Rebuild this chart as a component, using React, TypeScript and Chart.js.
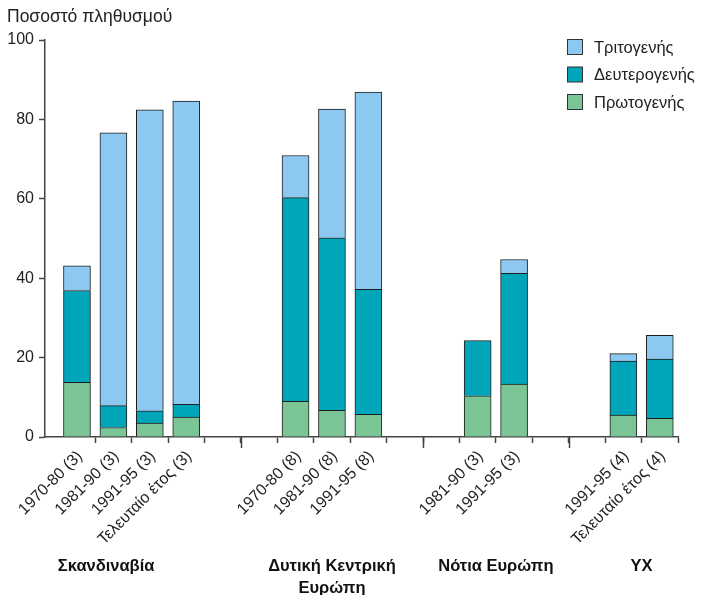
import React, { useEffect, useRef } from "react";
import { Chart, registerables } from "chart.js";

Chart.register(...registerables);

// ---- Data ----
const categories = [
  "1970-80 (3)", "1981-90 (3)", "1991-95 (3)", "Τελευταίο έτος (3)",
  "", "",
  "1970-80 (8)", "1981-90 (8)", "1991-95 (8)",
  "", "",
  "1981-90 (3)", "1991-95 (3)",
  "", "",
  "1991-95 (4)", "Τελευταίο έτος (4)",
];
const primary = [13.8, 2.4, 3.5, 5.0, null, null, 9.0, 6.7, 5.7, null, null, 10.4, 13.3, null, null, 5.5, 4.7];
const secondary = [23.1, 5.5, 3.1, 3.2, null, null, 51.3, 43.5, 31.5, null, null, 13.9, 27.9, null, null, 13.6, 14.9];
const tertiary = [6.2, 68.7, 75.8, 76.4, null, null, 10.6, 32.4, 49.7, null, null, 0, 3.5, null, null, 1.9, 6.0];
const seriesNames = ["Πρωτογενής", "Δευτερογενής", "Τριτογενής"];
const groupLabels = [["Σκανδιναβία"], ["Δυτική Κεντρική", "Ευρώπη"], ["Νότια Ευρώπη"], ["ΥΧ"]];
const groupLabelPos = [0.8, 7, 11.5, 15.5];
const groupSeparators = [4.5, 9.5, 13.5];
const yTicks = [0, 20, 40, 60, 80, 100];
const yTitle = "Ποσοστό πληθυσμού";

const COLORS = ["#7bc495", "#00a5b9", "#8cc8ef"];
const FONT = "'Liberation Sans', Arial, sans-serif";
const AXIS = "#444";

const toPoints = (arr: (number | null)[]) => arr.map((v, i) => ({ x: i, y: v }));

const extras = {
  id: "extras",
  afterDraw(chart: any) {
    const ctx = chart.ctx;
    const x = chart.scales.x;
    const area = chart.chartArea;
    ctx.save();
    // long separator ticks
    ctx.strokeStyle = AXIS;
    ctx.lineWidth = 1.5;
    groupSeparators.forEach((v) => {
      const px = Math.round(x.getPixelForValue(v)) + 0.5;
      ctx.beginPath();
      ctx.moveTo(px, area.bottom);
      ctx.lineTo(px, area.bottom + 11);
      ctx.stroke();
    });
    // group labels
    ctx.fillStyle = "#111";
    ctx.font = `bold 16.5px ${FONT}`;
    ctx.textAlign = "center";
    ctx.textBaseline = "middle";
    groupLabels.forEach((lines, gi) => {
      const px = x.getPixelForValue(groupLabelPos[gi]);
      lines.forEach((t, li) => ctx.fillText(t, px, 566 + li * 22));
    });
    // y title
    ctx.font = `17.5px ${FONT}`;
    ctx.textAlign = "left";
    ctx.fillStyle = "#222";
    ctx.fillText(yTitle, 7, 17);
    // legend (top-down: tertiary, secondary, primary)
    ctx.font = `16.5px ${FONT}`;
    const order = [2, 1, 0];
    order.forEach((si, row) => {
      const cy = 47 + row * 27.5;
      ctx.fillStyle = COLORS[si];
      ctx.fillRect(567.5, cy - 7.5, 15, 15);
      ctx.strokeStyle = "#333";
      ctx.lineWidth = 1;
      ctx.strokeRect(567.5, cy - 7.5, 15, 15);
      ctx.fillStyle = "#222";
      ctx.fillText(seriesNames[si], 594, cy + 1);
    });
    ctx.restore();
  },
};

export default function App() {
  const ref = useRef<HTMLCanvasElement>(null);
  useEffect(() => {
    if (!ref.current) return;
    const chart = new Chart(ref.current, {
      type: "bar",
      data: {
        datasets: [primary, secondary, tertiary].map((arr, i) => ({
          label: seriesNames[i],
          data: toPoints(arr) as any,
          backgroundColor: COLORS[i],
          borderColor: "#1e1e1e",
          borderWidth: 1,
          barThickness: 27,
        })),
      },
      options: {
        responsive: false,
        animation: false,
        layout: { padding: { top: 40, right: 34, left: 0, bottom: 0 } },
        plugins: { legend: { display: false }, tooltip: { enabled: false } },
        scales: {
          x: {
            type: "linear",
            stacked: true,
            offset: false,
            min: -0.878,
            max: 16.5,
            bounds: "data",
            afterBuildTicks: (s: any) => {
              s.ticks = categories.map((_, i) => ({ value: i }));
            },
            afterFit: (s: any) => {
              s.height = 158;
              s.paddingLeft = 0;
              s.paddingRight = 0;
            },
            ticks: {
              autoSkip: false,
              minRotation: 45,
              maxRotation: 45,
              labelOffset: 3,
              padding: 4,
              color: "#222",
              font: { family: FONT, size: 16 },
              callback: (v: any) => categories[v] ?? "",
            },
            grid: {
              drawOnChartArea: false,
              offset: true,
              tickLength: 6,
              tickWidth: 1.5,
              tickColor: (c: any) => (c.index === 0 ? "rgba(0,0,0,0)" : AXIS),
            },
            border: { color: AXIS, width: 1.5 },
          },
          y: {
            stacked: true,
            min: 0,
            max: 100,
            afterBuildTicks: (s: any) => {
              s.ticks = yTicks.map((v) => ({ value: v }));
            },
            afterFit: (s: any) => {
              s.width = 45;
              s.paddingTop = 0;
              s.paddingBottom = 0;
            },
            ticks: {
              padding: 5,
              color: "#222",
              font: { family: FONT, size: 16 },
            },
            grid: {
              drawOnChartArea: false,
              tickLength: 6,
              tickWidth: 1.5,
              tickColor: AXIS,
            },
            border: { color: AXIS, width: 1.5 },
          },
        },
      },
      plugins: [extras],
    });
    return () => chart.destroy();
  }, []);
  return (
    <div style={{ position: "fixed", left: 0, top: 0, width: 712, height: 595, background: "#fff" }}>
      <canvas ref={ref} width={712} height={595} style={{ width: 712, height: 595 }} />
    </div>
  );
}
